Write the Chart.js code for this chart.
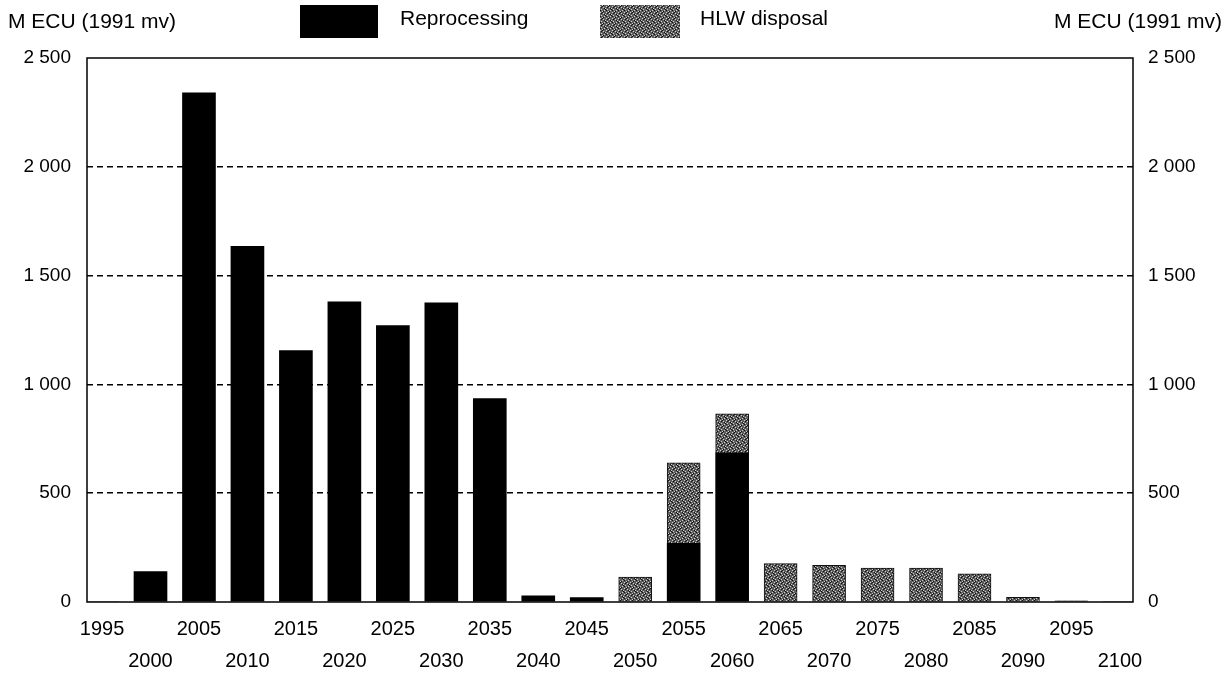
<!DOCTYPE html>
<html>
<head>
<meta charset="utf-8">
<script src="https://cdn.jsdelivr.net/npm/chart.js@4.4.0/dist/chart.umd.min.js"></script>
<style>
  html, body { margin: 0; padding: 0; background: #fff; }
  #wrap { width: 1225px; height: 675px; }
</style>
</head>
<body>
<div id="wrap"><canvas id="canvas" width="1225" height="675"></canvas></div>
<script>
'use strict';

// values, M ECU (1991 mv)
let years = [1995, 2000, 2005, 2010, 2015, 2020, 2025, 2030, 2035, 2040, 2045,
  2050, 2055, 2060, 2065, 2070, 2075, 2080, 2085, 2090, 2095, 2100];
let reprocessing = [0, 140, 2340, 1635, 1155, 1380, 1270, 1375, 935, 28, 20,
  0, 270, 685, 0, 0, 0, 0, 0, 0, 0, 0];
let hlwDisposal = [0, 0, 0, 0, 0, 0, 0, 0, 0, 0, 0,
  115, 370, 180, 176, 168, 156, 156, 130, 22, 5, 0];
let yTicks = [0, 500, 1000, 1500, 2000, 2500];
let axisTitle = 'M ECU (1991 mv)';
let seriesNames = ['Reprocessing', 'HLW disposal'];

let font = 'Liberation Sans, Arial, Helvetica, sans-serif';

// speckled grey fill like the printed original
function makeSpeckle(){
  let c = document.createElement('canvas');
  c.width = 6; c.height = 6;
  let g = c.getContext('2d');
  g.fillStyle = '#5e5e5e';
  g.fillRect(0, 0, 6, 6);
  let light = [[0,0],[3,1],[1,3],[4,4],[2,5],[5,2]];
  let dark = [[2,0],[5,3],[0,4],[3,5],[1,1],[4,2]];
  g.fillStyle = '#d0d0d0';
  light.forEach(p => g.fillRect(p[0], p[1], 1, 1));
  g.fillStyle = '#111';
  dark.forEach(p => g.fillRect(p[0], p[1], 1, 1));
  return g.createPattern(c, 'repeat');
}
let speckle = makeSpeckle();

function fmt(v){
  return v >= 1000 ? Math.floor(v / 1000) + ' ' + String(v % 1000).padStart(3, '0') : String(v);
}

let decorations = {
  id: 'decorations',
  afterDraw(chart){
    let ctx = chart.ctx;
    let a = chart.chartArea;
    ctx.save();
    // frame
    ctx.strokeStyle = '#000';
    ctx.lineWidth = 1.5;
    ctx.strokeRect(a.left, a.top, a.right - a.left, a.bottom - a.top);
    // axis titles
    ctx.fillStyle = '#000';
    ctx.font = '21px ' + font;
    ctx.textBaseline = 'middle';
    ctx.textAlign = 'left';
    ctx.fillText(axisTitle, 8, 22);
    ctx.textAlign = 'right';
    ctx.fillText(axisTitle, 1222, 22);
    // legend
    ctx.fillStyle = '#000';
    ctx.fillRect(300, 5, 78, 33);
    ctx.fillStyle = speckle;
    ctx.fillRect(600, 5, 80, 33);
    ctx.fillStyle = '#000';
    ctx.textAlign = 'left';
    ctx.fillText(seriesNames[0], 400, 19);
    ctx.fillText(seriesNames[1], 700, 19);
    ctx.restore();
  }
};

let canvas = document.getElementById('canvas');

new Chart(canvas, {
  type: 'bar',
  data: {
    datasets: [{
      label: seriesNames[0],
      data: years.map((yr, i) => ({x: yr, y: reprocessing[i]})),
      backgroundColor: '#000',
      borderWidth: 0,
      barThickness: 33
    }, {
      label: seriesNames[1],
      data: years.map((yr, i) => ({x: yr, y: hlwDisposal[i]})),
      backgroundColor: speckle,
      borderColor: '#111',
      borderWidth: 1,
      barThickness: 33
    }]
  },
  options: {
    responsive: false,
    animation: false,
    layout: { padding: { top: 58, left: 0, right: 0, bottom: 0 } },
    plugins: {
      legend: { display: false },
      tooltip: { enabled: false }
    },
    scales: {
      x: {
        type: 'linear',
        stacked: true,
        offset: false,
        min: 1993.45,
        max: 2101.35,
        afterBuildTicks: s => { s.ticks = years.map(v => ({value: v})); },
        afterFit: s => { s.height = 73; },
        grid: { display: false, offset: false },
        border: { display: false },
        ticks: {
          autoSkip: false,
          maxRotation: 0,
          padding: 3,
          color: '#000',
          font: { family: font, size: 20, lineHeight: 1.6 },
          callback: v => {
            let i = years.indexOf(v);
            return i % 2 === 0 ? [String(v), ''] : ['', String(v)];
          }
        }
      },
      y: {
        stacked: true,
        min: 0,
        max: 2500,
        afterBuildTicks: s => { s.ticks = yTicks.map(v => ({value: v})); },
        afterFit: s => { s.width = 87; },
        grid: {
          color: c => (c.tick && (c.tick.value === 0 || c.tick.value === 2500)) ? 'rgba(0,0,0,0)' : '#000',
          lineWidth: 1.5,
          drawTicks: false
        },
        border: { display: false, dash: [6, 4] },
        ticks: {
          padding: 16,
          color: '#000',
          font: { family: font, size: 19 },
          callback: v => fmt(v)
        }
      },
      y2: {
        position: 'right',
        min: 0,
        max: 2500,
        afterBuildTicks: s => { s.ticks = yTicks.map(v => ({value: v})); },
        afterFit: s => { s.width = 92; },
        grid: { display: false, drawTicks: false },
        border: { display: false },
        ticks: {
          padding: 15,
          color: '#000',
          font: { family: font, size: 19 },
          callback: v => fmt(v)
        }
      }
    }
  },
  plugins: [decorations]
});
</script>
</body>
</html>
